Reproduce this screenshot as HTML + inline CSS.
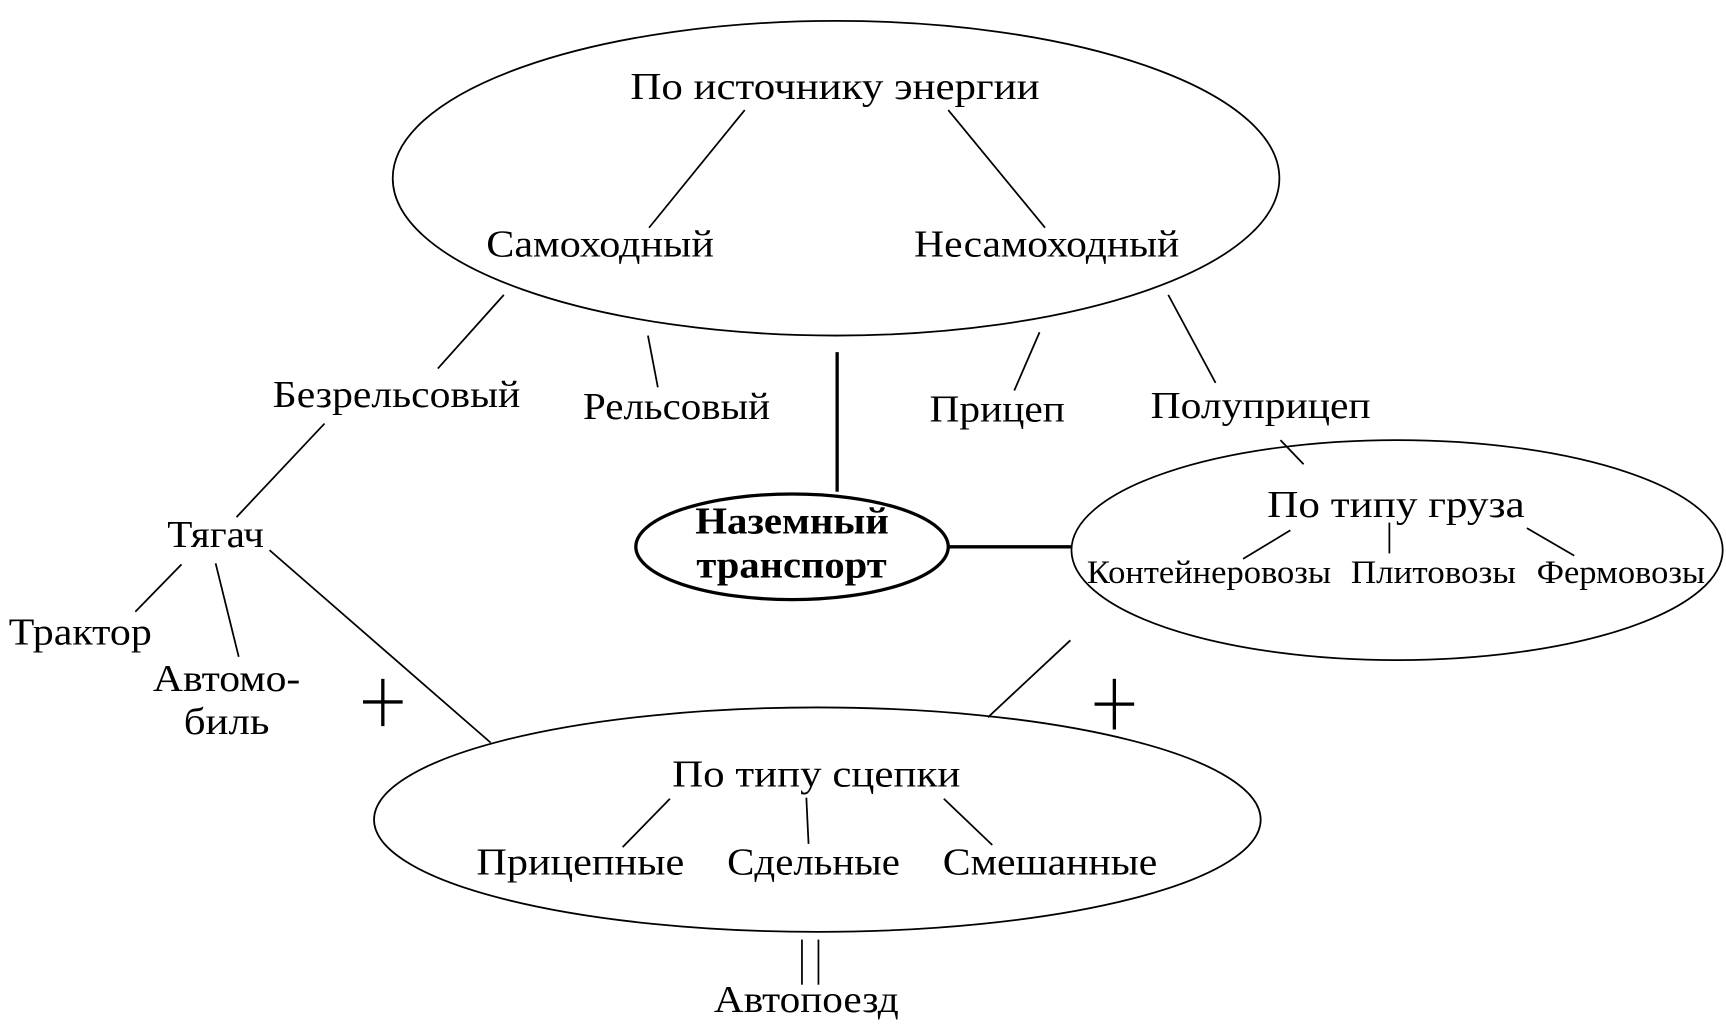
<!DOCTYPE html>
<html><head><meta charset="utf-8"><style>
html,body{margin:0;padding:0;background:#fff;}
svg{display:block;}
text{font-family:"Liberation Serif",serif;fill:#000;}
</style></head><body>
<svg width="1726" height="1032" viewBox="0 0 1569 938" preserveAspectRatio="none" xmlns="http://www.w3.org/2000/svg">
<g fill="none" stroke="#000" stroke-width="1.6">
<ellipse cx="760" cy="162" rx="403" ry="143"/>
<ellipse cx="1270" cy="500" rx="296" ry="100"/>
<ellipse cx="743" cy="745" rx="403" ry="102"/>
<line x1="677" y1="100" x2="590" y2="207"/>
<line x1="862" y1="100" x2="950" y2="207"/>
<line x1="458" y1="268" x2="398" y2="335"/>
<line x1="589" y1="305" x2="598" y2="352"/>
<line x1="945" y1="302" x2="922" y2="355"/>
<line x1="1062" y1="268" x2="1105" y2="348"/>
<line x1="1164" y1="400" x2="1185" y2="422"/>
<line x1="1173" y1="482" x2="1130" y2="508"/>
<line x1="1263" y1="475" x2="1263" y2="503"/>
<line x1="1388" y1="480" x2="1431" y2="505"/>
<line x1="295" y1="385" x2="215" y2="470"/>
<line x1="165" y1="513" x2="123" y2="556"/>
<line x1="196" y1="512" x2="217" y2="597"/>
<line x1="245" y1="500" x2="446" y2="675"/>
<line x1="973" y1="582" x2="898" y2="652"/>
<line x1="609" y1="726" x2="566" y2="770"/>
<line x1="733" y1="725" x2="735" y2="767"/>
<line x1="858" y1="726" x2="902" y2="768"/>
<line x1="729" y1="854" x2="729" y2="895"/>
<line x1="744" y1="854" x2="744" y2="895"/>
</g>
<g stroke="#000" stroke-width="3" fill="none">
<line x1="761" y1="320" x2="761" y2="447"/>
<line x1="863" y1="497" x2="974" y2="497"/>
<ellipse cx="720" cy="497" rx="142" ry="48"/>
<line x1="348" y1="617" x2="348" y2="660"/>
<line x1="330" y1="638" x2="366" y2="638"/>
<line x1="1013" y1="617" x2="1013" y2="663"/>
<line x1="995" y1="640" x2="1031" y2="640"/>
</g>
<g font-size="35" lengthAdjust="spacingAndGlyphs">
<text x="573" y="90" textLength="372" lengthAdjust="spacingAndGlyphs">По источнику энергии</text>
<text x="442" y="233" textLength="207" lengthAdjust="spacingAndGlyphs">Самоходный</text>
<text x="831" y="233" textLength="241" lengthAdjust="spacingAndGlyphs">Несамоходный</text>
<text x="248" y="370" textLength="225" lengthAdjust="spacingAndGlyphs">Безрельсовый</text>
<text x="530" y="381" textLength="170" lengthAdjust="spacingAndGlyphs">Рельсовый</text>
<text x="845" y="383" textLength="123" lengthAdjust="spacingAndGlyphs">Прицеп</text>
<text x="1046" y="380" textLength="200" lengthAdjust="spacingAndGlyphs">Полуприцеп</text>
<text x="1152" y="470" textLength="234" lengthAdjust="spacingAndGlyphs">По типу груза</text>
<text x="152" y="497" textLength="88" lengthAdjust="spacingAndGlyphs">Тягач</text>
<text x="8" y="586" textLength="130" lengthAdjust="spacingAndGlyphs">Трактор</text>
<text x="139" y="628" textLength="134" lengthAdjust="spacingAndGlyphs">Автомо-</text>
<text x="167" y="667" textLength="78" lengthAdjust="spacingAndGlyphs">биль</text>
<text x="611" y="715" textLength="262" lengthAdjust="spacingAndGlyphs">По типу сцепки</text>
<text x="433" y="795" textLength="189" lengthAdjust="spacingAndGlyphs">Прицепные</text>
<text x="661" y="795" textLength="157" lengthAdjust="spacingAndGlyphs">Сдельные</text>
<text x="857" y="795" textLength="195" lengthAdjust="spacingAndGlyphs">Смешанные</text>
<text x="649" y="920" textLength="168" lengthAdjust="spacingAndGlyphs">Автопоезд</text>
</g>
<g font-size="30">
<text x="988" y="530" textLength="222" lengthAdjust="spacingAndGlyphs">Контейнеровозы</text>
<text x="1228" y="530" textLength="150" lengthAdjust="spacingAndGlyphs">Плитовозы</text>
<text x="1397" y="530" textLength="153" lengthAdjust="spacingAndGlyphs">Фермовозы</text>
</g>
<g font-size="35" font-weight="bold">
<text x="632" y="485" textLength="176" lengthAdjust="spacingAndGlyphs">Наземный</text>
<text x="633" y="525" textLength="173" lengthAdjust="spacingAndGlyphs">транспорт</text>
</g>
</svg>
</body></html>
